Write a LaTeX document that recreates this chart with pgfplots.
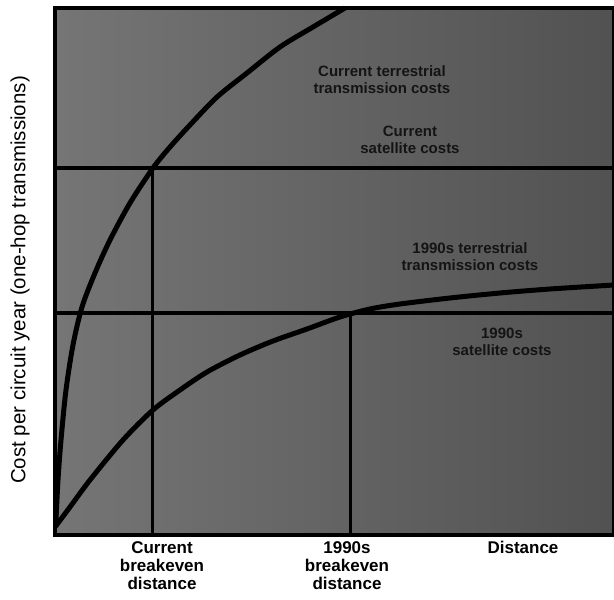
\documentclass[border=0pt]{standalone}
\usepackage{pgfplots}
\pgfplotsset{compat=1.18}
\usepackage{fontspec}
\setmainfont{Liberation Sans}
\begin{document}
\begin{tikzpicture}
\begin{axis}[
  name=ax,
  scale only axis,
  width=559pt, height=527pt,
  xmin=0, xmax=559, ymin=0, ymax=527,
  clip=false,
  axis line style={line width=3.5pt, black},
  axis background/.style={left color=black!54, right color=black!68},
  ytick=\empty,
  xtick={107,292,468},
  xticklabels={Current\\breakeven\\distance, 1990s\\breakeven\\distance, Distance},
  major tick length=0pt,
  xticklabel style={align=center, anchor=north, yshift=-3pt,
    font=\fontsize{17}{18}\selectfont\bfseries},
]
% horizontal (satellite) cost lines
\addplot[black, line width=4pt] coordinates {(0,367) (559,367)};
\addplot[black, line width=4pt] coordinates {(0,222) (559,222)};
% breakeven verticals
\addplot[black, line width=3pt] coordinates {(98,0) (98,367)};
\addplot[black, line width=3pt] coordinates {(295,0) (295,222)};
% current terrestrial cost curve
\addplot[black, line width=5pt, smooth] coordinates {
 (1,15) (3,55) (6,95) (11,145) (18,190) (27,228) (40,262) (55,295)
 (75,332) (98,367) (115,388) (135,410) (162,438) (192,462) (225,488)
 (258,508) (290,527)};
% 1990s terrestrial cost curve
\addplot[black, line width=5pt, smooth] coordinates {
 (0,8) (15,28) (35,55) (68,95) (98,125) (125,145) (152,163) (185,180)
 (218,194) (252,206) (285,218) (315,226) (345,231) (395,237) (445,242)
 (495,246) (559,250)};
% illegible inner labels (dark)
\node[font=\fontsize{15}{17}\selectfont\bfseries, text=black!92, align=center] at (axis cs:327,455) {Current terrestrial\\transmission costs};
\node[font=\fontsize{15}{17}\selectfont\bfseries, text=black!92, align=center] at (axis cs:355,395) {Current\\satellite costs};
\node[font=\fontsize{15}{17}\selectfont\bfseries, text=black!92, align=center] at (axis cs:415,278) {1990s terrestrial\\transmission costs};
\node[font=\fontsize{15}{17}\selectfont\bfseries, text=black!92, align=center] at (axis cs:447,193) {1990s\\satellite costs};
% y label
\node[rotate=90, anchor=center, font=\fontsize{20.5}{22}\selectfont] at (axis cs:-35,255) {Cost per circuit year (one-hop transmissions)};
\end{axis}
\pgfresetboundingbox
\path[use as bounding box] ([xshift=-55pt,yshift=-65pt]ax.south west) rectangle ([yshift=8pt]ax.north east);
\end{tikzpicture}
\end{document}
